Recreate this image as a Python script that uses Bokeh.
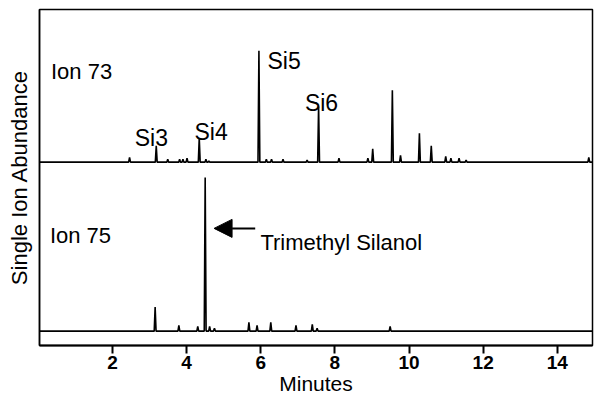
from bokeh.plotting import figure
from bokeh.models import Range1d, FixedTicker, Arrow, NormalHead
from bokeh.core.properties import value
from bokeh.embed import file_html
from bokeh.resources import INLINE

# Ion 73 trace peaks (minutes, abundance above its baseline)
times73 = [2.46, 3.18, 3.49, 3.81, 3.90, 4.01, 4.34, 4.52, 4.60, 5.95, 6.15, 6.29, 6.60,
           7.25, 7.56, 8.11, 8.89, 9.02, 9.55, 9.77, 10.28, 10.60, 10.99, 11.13, 11.35, 11.54, 14.85]
heights73 = [5, 17, 3, 3, 3, 4, 25, 3, 1, 116, 3, 3, 3,
             2, 58, 4, 4, 14, 75, 7, 30, 17, 6, 4, 4, 2, 5]
# Ion 75 trace peaks
times75 = [3.15, 3.79, 4.30, 4.50, 4.62, 4.75, 5.68, 5.90, 6.27, 6.95, 7.39, 7.52, 9.49]
heights75 = [25, 6, 5, 160, 5, 3, 9, 6, 9, 6, 7, 3, 5]
offset73 = 176  # vertical offset of the Ion 73 trace

x_ticks = [2, 4, 6, 8, 10, 12, 14]
x_start, x_end = 0.03, 14.95
y_start, y_end = -15, 335

peak_labels = ["Si3", "Si4", "Si5", "Si6"]
peak_label_x = [2.60, 4.21, 6.18, 7.19]
peak_label_y = [201, 207, 281, 238]
ion_labels = ["Ion 73", "Ion 75", "Trimethyl Silanol"]
ion_label_x = [0.34, 0.31, 5.99]
ion_label_y = [270, 100, 92]
arrow_from = (5.85, 107)
arrow_to = (4.74, 107)

FONT = "Liberation Sans"


def trace(times, heights, base):
    w = 0.025
    xs = [x_start]
    ys = [base]
    for t, h in zip(times, heights):
        xs += [t - w, t, t + w]
        ys += [base, base + h, base]
    xs.append(x_end)
    ys.append(base)
    return xs, ys


p = figure(width=594, height=401, output_backend="svg", toolbar_location=None,
           x_range=Range1d(x_start, x_end), y_range=Range1d(y_start, y_end),
           min_border_top=9, min_border_right=2, min_border_left=39, min_border_bottom=56)

x73, y73 = trace(times73, heights73, offset73)
x75, y75 = trace(times75, heights75, 0)
p.line(x73, y73, line_color="black", line_width=1.6)
p.line(x75, y75, line_color="black", line_width=1.6)

p.text(x=peak_label_x, y=peak_label_y, text=peak_labels, text_font=value(FONT),
       text_font_size="23px", text_baseline="alphabetic", text_align="left", text_color="black")
p.text(x=ion_label_x, y=ion_label_y, text=ion_labels, text_font=value(FONT),
       text_font_size="22px", text_baseline="alphabetic", text_align="left", text_color="black")

p.add_layout(Arrow(end=NormalHead(size=18, fill_color="black", line_color="black"),
                   x_start=arrow_from[0], y_start=arrow_from[1],
                   x_end=arrow_to[0], y_end=arrow_to[1],
                   line_color="black", line_width=2))

p.grid.visible = False
p.outline_line_color = "black"
p.outline_line_width = 1.5
p.background_fill_color = "white"
p.border_fill_color = "white"

xa = p.xaxis[0]
xa.ticker = FixedTicker(ticks=x_ticks)
xa.axis_label = "Minutes"
xa.axis_label_text_font = FONT
xa.axis_label_text_font_size = "21px"
xa.axis_label_text_font_style = "normal"
xa.axis_label_text_color = "black"
xa.axis_label_standoff = 0
xa.major_label_text_font = FONT
xa.major_label_text_font_size = "19px"
xa.major_label_text_font_style = "bold"
xa.major_label_text_color = "black"
xa.major_label_standoff = 2
xa.major_tick_out = 8
xa.major_tick_in = 0
xa.major_tick_line_width = 2
xa.major_tick_line_color = "black"
xa.minor_tick_line_color = None
xa.axis_line_width = 2
xa.axis_line_color = "black"

ya = p.yaxis[0]
ya.ticker = FixedTicker(ticks=[])
ya.axis_label = "Single Ion Abundance"
ya.axis_label_text_font = FONT
ya.axis_label_text_font_size = "22px"
ya.axis_label_text_font_style = "normal"
ya.axis_label_text_color = "black"
ya.axis_label_standoff = 8
ya.major_label_text_color = None
ya.major_tick_line_color = None
ya.minor_tick_line_color = None
ya.major_tick_out = 0
ya.major_tick_in = 0
ya.major_label_standoff = 0
ya.axis_line_color = "black"
ya.axis_line_width = 1.5

open("out.html", "w").write(file_html(p, INLINE))
